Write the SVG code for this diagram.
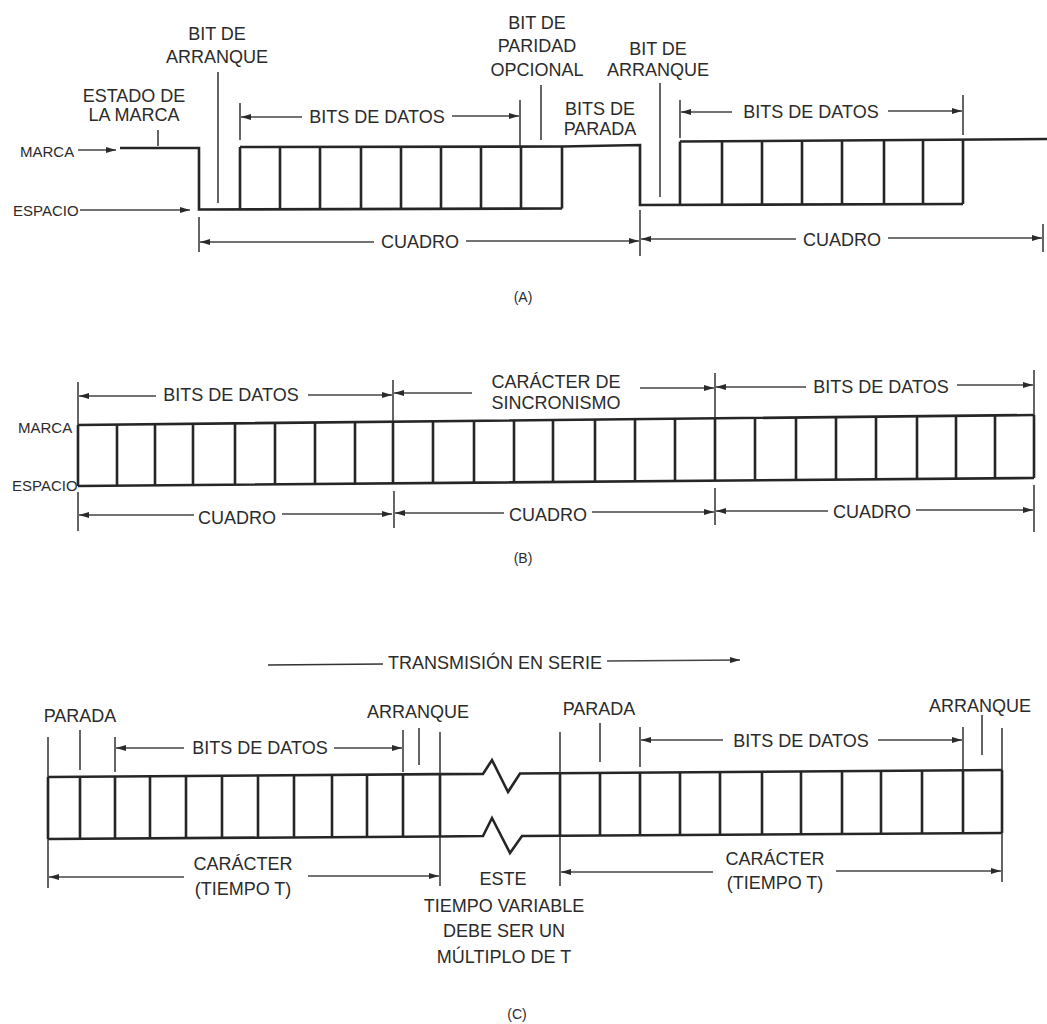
<svg xmlns="http://www.w3.org/2000/svg" width="1047" height="1024" viewBox="0 0 1047 1024">
<defs>
<marker id="ah" viewBox="0 0 10 6" refX="10" refY="3" markerWidth="10" markerHeight="6" orient="auto" markerUnits="userSpaceOnUse"><path d="M0,0 L10,3 L0,6 z" fill="#2a2a2a"/></marker>
<style>
text{font-family:"Liberation Sans",Arial,sans-serif;font-size:18px;fill:#2b2b2b;text-anchor:middle}
text.s{font-size:15px;text-anchor:start}
text.cap{font-size:14px}
.w{fill:none;stroke:#262626;stroke-width:2.6;stroke-linejoin:miter}
.t{fill:none;stroke:#333;stroke-width:1.5}
.d{fill:none;stroke:#444;stroke-width:1.4;marker-end:url(#ah)}
</style>
</defs>
<rect width="1047" height="1024" fill="#fff"/>

<g id="panel-a">
  <g id="a-waveform">
    <path class="w" d="M120,148 L199,148 L199,209.5 L562,208.5"/>
    <path class="w" d="M240,147 L562,146.5 L640,145 L640,205 L963,204"/>
    <path class="w" d="M680,141.5 L1047,139"/>
    <path class="w" d="M240,147 V209.5 M280,147 V209.5 M320,147 V209.5 M361,147 V209 M401,147 V209 M441,146.5 V209 M481,146.5 V209 M521,146.5 V208.5 M562,146.5 V208.5"/>
    <path class="w" d="M680,141.5 V205 M722,141.2 V205 M762,141 V204.5 M802,140.8 V204.5 M842,140.5 V204.5 M884,140.3 V204 M923,140 V204 M963,139.8 V204"/>
  </g>
  <g id="a-connectors">
    <path class="t" d="M158,130 V146 M218,72 V203 M541,85 V140 M660,83 V197"/>
    <path class="t" d="M240,103 V140 M520,100 V146 M680,100 V138 M963,95 V135"/>
    <path class="t" d="M199,217 V252 M640,210 V256 M1043,224 V252"/>
    <line class="d" x1="78" y1="150" x2="116" y2="150"/>
    <line class="d" x1="80" y1="210" x2="190" y2="210"/>
    <line class="d" x1="302" y1="117" x2="241" y2="117"/>
    <line class="d" x1="452" y1="116" x2="519" y2="116"/>
    <line class="d" x1="732" y1="112" x2="681" y2="112"/>
    <line class="d" x1="888" y1="111" x2="962" y2="111"/>
    <line class="d" x1="374" y1="242" x2="200" y2="242"/>
    <line class="d" x1="466" y1="241" x2="639" y2="241"/>
    <line class="d" x1="796" y1="239" x2="641" y2="239"/>
    <line class="d" x1="888" y1="238" x2="1042" y2="238"/>
  </g>
  <g id="a-labels">
    <text x="217" y="40">BIT DE</text>
    <text x="217" y="63">ARRANQUE</text>
    <text x="134" y="102">ESTADO DE</text>
    <text x="134" y="121">LA MARCA</text>
    <text class="s" x="20" y="157">MARCA</text>
    <text class="s" x="13" y="216">ESPACIO</text>
    <text x="377" y="123">BITS DE DATOS</text>
    <text x="537" y="29">BIT DE</text>
    <text x="537" y="52">PARIDAD</text>
    <text x="537" y="76">OPCIONAL</text>
    <text x="658" y="55">BIT DE</text>
    <text x="658" y="76">ARRANQUE</text>
    <text x="600" y="115">BITS DE</text>
    <text x="600" y="135">PARADA</text>
    <text x="811" y="118">BITS DE DATOS</text>
    <text x="420" y="248">CUADRO</text>
    <text x="842" y="246">CUADRO</text>
    <text class="cap" x="523" y="302">(A)</text>
  </g>
</g>

<g id="panel-b">
  <g id="b-waveform">
    <path class="w" d="M78,425 L1034,415 M78,486 L1034,478"/>
    <path class="w" d="M78,425 V486 M117,424.6 V485.7 M155,424.2 V485.4 M193,423.8 V485 M235,423.4 V484.7 M275,422.9 V484.4 M315,422.5 V484 M355,422.1 V483.7 M393,421.7 V483.4 M433,421.3 V483 M474,420.9 V482.7 M514,420.4 V482.4 M553,420 V482 M595,419.6 V481.7 M635,419.2 V481.3 M675,418.8 V481 M715,418.3 V480.7 M755,417.9 V480.3 M796,417.5 V480 M836,417.1 V479.7 M876,416.7 V479.3 M917,416.2 V479 M956,415.8 V478.7 M995,415.4 V478.3 M1034,415 V478"/>
  </g>
  <g id="b-connectors">
    <path class="t" d="M78,382 V425 M393,380 V421 M715,373 V418 M1034,370 V415"/>
    <path class="t" d="M78,492 V531 M394,491 V528 M715,488 V525 M1034,485 V532"/>
    <line class="d" x1="156" y1="396" x2="79" y2="396"/>
    <line class="d" x1="308" y1="395" x2="392" y2="395"/>
    <line class="d" x1="472" y1="393" x2="394" y2="393"/>
    <line class="d" x1="640" y1="388" x2="714" y2="388"/>
    <line class="d" x1="806" y1="387" x2="716" y2="387"/>
    <line class="d" x1="957" y1="385" x2="1033" y2="385"/>
    <line class="d" x1="194" y1="515" x2="79" y2="515"/>
    <line class="d" x1="282" y1="514" x2="392" y2="514"/>
    <line class="d" x1="504" y1="513" x2="395" y2="513"/>
    <line class="d" x1="592" y1="512" x2="714" y2="512"/>
    <line class="d" x1="828" y1="511" x2="716" y2="511"/>
    <line class="d" x1="916" y1="510" x2="1033" y2="510"/>
  </g>
  <g id="b-labels">
    <text class="s" x="18" y="433">MARCA</text>
    <text class="s" x="12" y="491">ESPACIO</text>
    <text x="231" y="401">BITS DE DATOS</text>
    <text x="556" y="388">CARÁCTER DE</text>
    <text x="556" y="409">SINCRONISMO</text>
    <text x="881" y="393">BITS DE DATOS</text>
    <text x="237" y="524">CUADRO</text>
    <text x="548" y="521">CUADRO</text>
    <text x="872" y="518">CUADRO</text>
    <text class="cap" x="523" y="563">(B)</text>
  </g>
</g>

<g id="panel-c">
  <g id="c-waveform">
    <path class="w" d="M48,777 L440,774.1 L483,774 L492,760 L508,792 L520,773.5 L1002,770"/>
    <path class="w" d="M48,839 L440,836.5 L483,836 L492,818 L510,853 L522,836 L1002,833"/>
    <path class="w" d="M48,777 V839 M80,776.8 V838.8 M115,776.5 V838.6 M150,776.3 V838.4 M186,776 V838.1 M222,775.7 V837.9 M258,775.5 V837.7 M294,775.2 V837.5 M332,774.9 V837.2 M367,774.7 V837 M403,774.4 V836.8 M440,774.1 V836.5"/>
    <path class="w" d="M560,773.2 V835.8 M600,773 V835.5 M640,772.7 V835.3 M680,772.4 V835 M720,772.1 V834.8 M762,771.8 V834.5 M801,771.5 V834.3 M842,771.2 V834 M881,771 V833.8 M922,770.6 V833.5 M963,770.3 V833.2 M1002,770 V833"/>
  </g>
  <g id="c-connectors">
    <path class="t" d="M48,737 V777 M80,730 V770 M115,737 V772 M403,730 V772 M419,728 V765 M440,732 V774"/>
    <path class="t" d="M560,732 V773 M600,723 V762 M640,727 V767 M963,727 V770 M982,715 V755 M1002,728 V770"/>
    <path class="t" d="M48,839 V888 M440,836 V886 M560,836 V886 M1002,833 V882"/>
    <line class="d" x1="184" y1="748" x2="116" y2="748"/>
    <line class="d" x1="334" y1="748" x2="402" y2="748"/>
    <line class="d" x1="723" y1="740" x2="641" y2="740"/>
    <line class="d" x1="878" y1="740" x2="962" y2="740"/>
    <line class="t" x1="268" y1="665" x2="383" y2="664"/>
    <line class="d" x1="607" y1="661" x2="740" y2="660"/>
    <line class="d" x1="184" y1="877" x2="49" y2="877"/>
    <line class="d" x1="308" y1="876" x2="439" y2="876"/>
    <line class="d" x1="713" y1="872" x2="561" y2="872"/>
    <line class="d" x1="836" y1="871" x2="1001" y2="871"/>
  </g>
  <g id="c-labels">
    <text x="495" y="669">TRANSMISIÓN EN SERIE</text>
    <text x="80" y="722">PARADA</text>
    <text x="418" y="718">ARRANQUE</text>
    <text x="260" y="754">BITS DE DATOS</text>
    <text x="599" y="715">PARADA</text>
    <text x="980" y="712">ARRANQUE</text>
    <text x="801" y="747">BITS DE DATOS</text>
    <text x="243" y="870">CARÁCTER</text>
    <text x="243" y="895">(TIEMPO T)</text>
    <text x="775" y="865">CARÁCTER</text>
    <text x="775" y="889">(TIEMPO T)</text>
    <text x="503" y="885">ESTE</text>
    <text x="504" y="912">TIEMPO VARIABLE</text>
    <text x="504" y="937">DEBE SER UN</text>
    <text x="504" y="963">MÚLTIPLO DE T</text>
    <text class="cap" x="517" y="1019">(C)</text>
  </g>
</g>
</svg>
